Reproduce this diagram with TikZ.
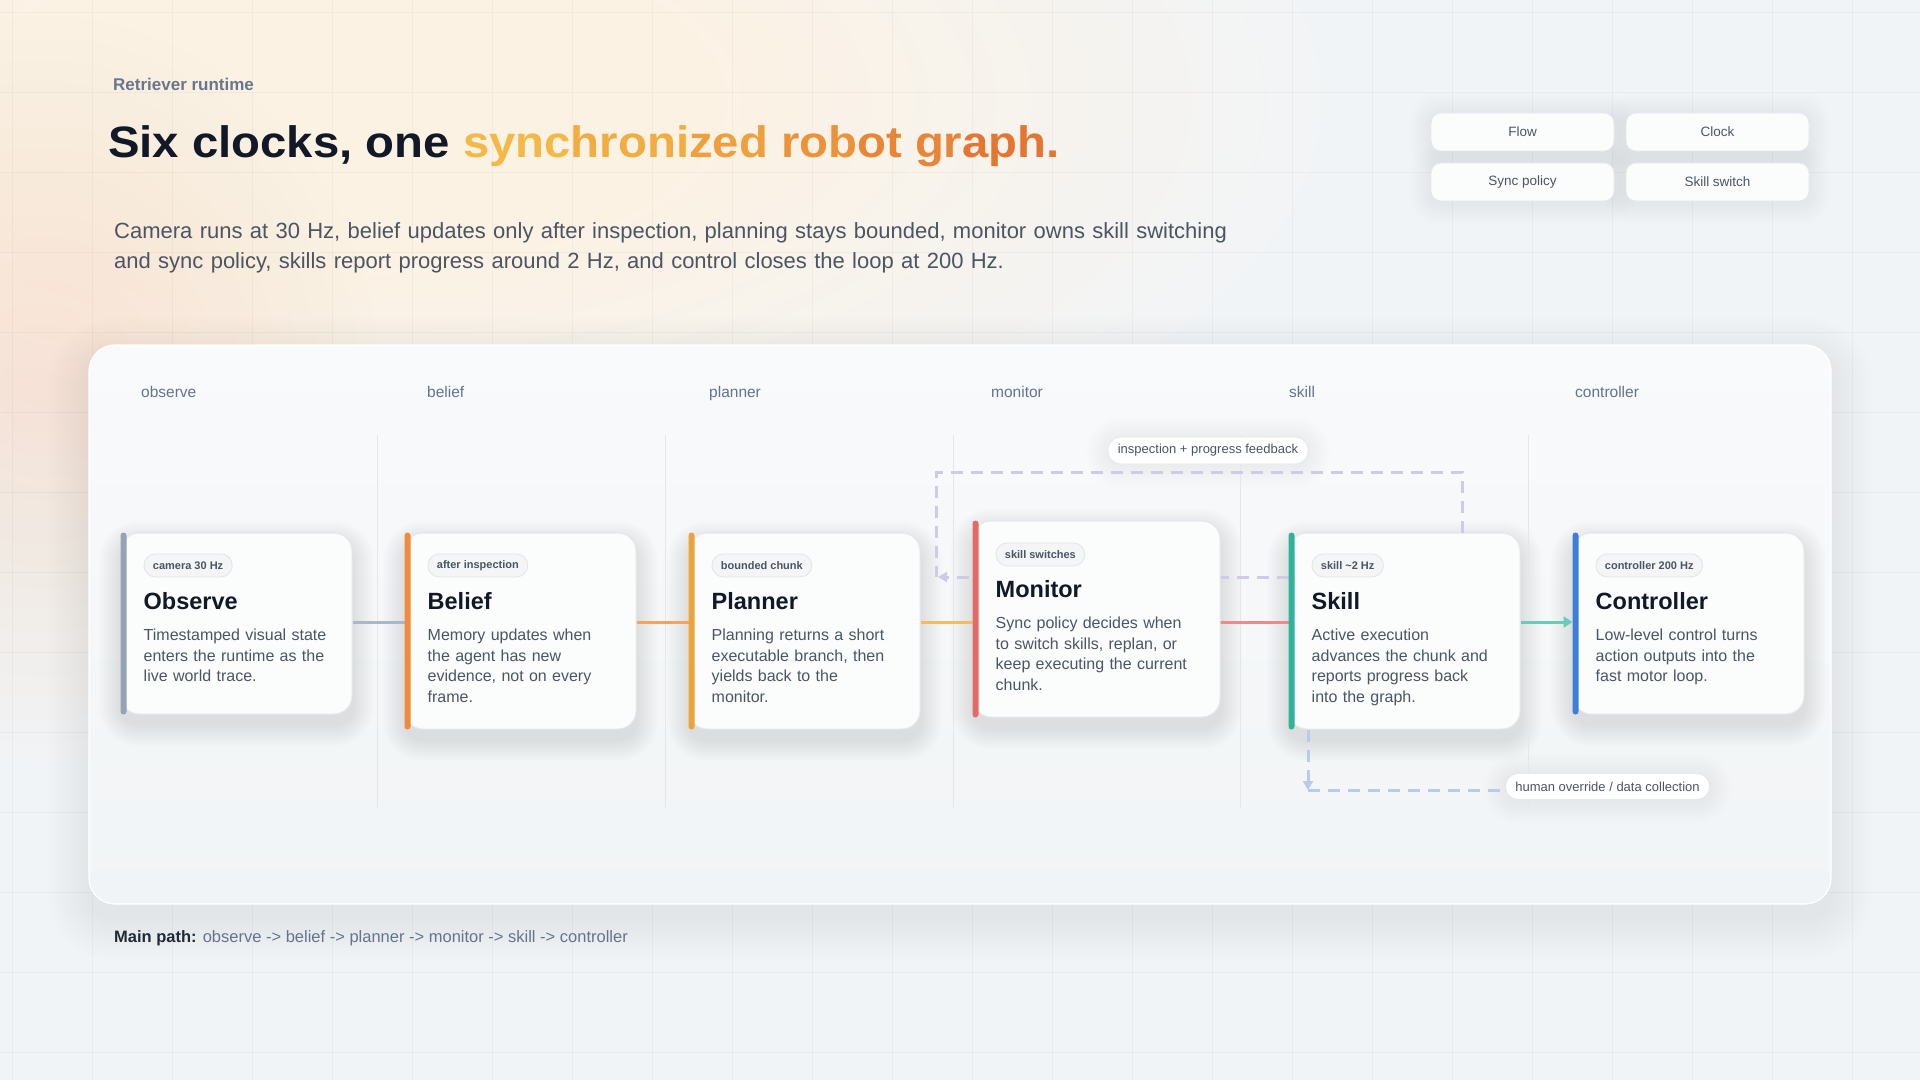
\documentclass[tikz,border=0pt]{standalone}
\usepackage{fontspec}
\setmainfont{Liberation Sans}
\usepackage{graphicx}
\usetikzlibrary{arrows.meta,calc}
\definecolor{bg}{HTML}{F1F4F7}
\definecolor{glowc}{HTML}{FCF2E4}
\definecolor{peach}{HTML}{F8DFC6}
\definecolor{ink}{HTML}{111827}
\definecolor{ink2}{HTML}{1F2937}
\definecolor{slate}{HTML}{4B5563}
\definecolor{muted}{HTML}{64748B}
\definecolor{eyebrow}{HTML}{68778D}
\definecolor{cardfill}{HTML}{FBFCFC}
\definecolor{cardline}{HTML}{E5E8EC}
\definecolor{pillfill}{HTML}{F3F5F7}
\definecolor{pillline}{HTML}{E1E4E8}
\definecolor{divc}{HTML}{E3E7EC}
\definecolor{panelT}{HTML}{F9FAFB}
\definecolor{panelB}{HTML}{F1F4F6}
\definecolor{obsC}{HTML}{94A3B8}
\definecolor{belC}{HTML}{F08A3C}
\definecolor{plaC}{HTML}{EBA43A}
\definecolor{monC}{HTML}{E46A6A}
\definecolor{skiC}{HTML}{2FB39B}
\definecolor{conC}{HTML}{3B7FD9}
\definecolor{lnA}{HTML}{AAB7C6}
\definecolor{lnB}{HTML}{F2A462}
\definecolor{lnC}{HTML}{F1BC62}
\definecolor{lnD}{HTML}{E88C8C}
\definecolor{lnE}{HTML}{6CCAB6}
\definecolor{fbC}{HTML}{D1C9E9}
\definecolor{hoC}{HTML}{B8CBEA}
\definecolor{tA}{HTML}{F4B847}
\definecolor{tB}{HTML}{F1AC42}
\definecolor{tC}{HTML}{EEA03E}
\definecolor{tD}{HTML}{EC933A}
\definecolor{tE}{HTML}{E98536}
\definecolor{tF}{HTML}{E57632}
\pgfdeclareradialshading{warmglow}{\pgfpoint{0bp}{0bp}}{color(0bp)=(glowc); color(9bp)=(glowc); color(25bp)=(bg); color(50bp)=(bg)}
\pgfdeclarelayer{back}
\pgfdeclarelayer{shadowlayer}
\pgfsetlayers{back,shadowlayer,main}
\newcommand\fsz[2]{\fontsize{#1}{#2}\selectfont}
\newcommand\softshadow[4]{% node, radius, y offset, opacity
  \begin{pgfonlayer}{shadowlayer}
  \foreach \k in {1,...,12} {%
    \pgfmathsetmacro\ssd{1.8*\k}%
    \pgfmathsetmacro\ssr{#2+1.8*\k}%
    \fill[black, opacity=#4, rounded corners=\ssr pt]
      ([xshift=-\ssd pt, yshift=\ssd pt-#3pt]#1.north west) rectangle ([xshift=\ssd pt, yshift=-\ssd pt-#3pt]#1.south east);}
  \end{pgfonlayer}}
\newcommand\mkcardtext[5]{%
  \node[tagpill, anchor=north west] (#1tag) at ([xshift=23pt,yshift=-#5pt]#1.north west) {#2};
  \node[cardtitle, anchor=base west] (#1title) at ([xshift=23pt,yshift=-77pt]#1.north west) {#3};
  \node[cardbody, anchor=base west] (#1body) at ([xshift=23pt,yshift=-108pt]#1.north west) {#4};
}
\begin{document}
\begin{tikzpicture}[x=1pt,y=-1pt,
  card/.style={draw=cardline, line width=1pt, fill=cardfill, rounded corners=18pt,
    minimum width=231pt, inner sep=0pt},
  tagpill/.style={draw=pillline, line width=0.8pt, fill=pillfill, rounded corners=11.5pt,
    minimum height=23pt, inner xsep=9pt, inner ysep=0pt, text=slate, font=\fsz{11}{13}\bfseries},
  cardtitle/.style={inner sep=0pt, text=ink, font=\fsz{23.5}{28}\bfseries},
  cardbody/.style={inner sep=0pt, text=slate, text width=210pt, align=left, font=\fsz{16}{20.5}\selectfont},
  collabel/.style={inner sep=0pt, text=muted, font=\fsz{15.5}{18}\selectfont},
  divider/.style={draw=divc, line width=1pt},
  link/.style={draw=#1, line width=3pt},
  fb/.style={draw=fbC, line width=3pt, dash pattern=on 12pt off 8pt},
  ho/.style={draw=hoC, line width=3pt, dash pattern=on 12pt off 8pt},
  btn/.style={draw=cardline, line width=0.8pt, fill=cardfill, rounded corners=10pt,
    minimum width=183pt, minimum height=38pt, text=slate, font=\fsz{13.5}{16}\selectfont},
  notepill/.style={draw=cardline, line width=0.8pt, fill=white, rounded corners=13pt,
    inner xsep=10pt, inner ysep=0pt, text=slate, font=\fsz{13}{15}\selectfont},
]
\useasboundingbox (0,0) rectangle (1920,1080);
\begin{pgfonlayer}{back}
% background
\fill[bg] (0,0) rectangle (1920,1080);
\shade[shading=warmglow] (-650,-350) rectangle (1350,550);
\foreach \r in {20,40,...,340} \fill[peach, opacity=0.035] (40,390) ellipse [x radius=\r, y radius=1.1*\r];
\foreach \gx in {12,92,...,1920} \draw[black, opacity=0.03, line width=1pt] (\gx,0) -- (\gx,1080);
\foreach \gy in {12,92,...,1080} \draw[black, opacity=0.03, line width=1pt] (0,\gy) -- (1920,\gy);
% panel shadow + panel
\foreach \k in {1,...,14} {%
  \pgfmathsetmacro\pd{3*\k}\pgfmathsetmacro\pr{26+3*\k}%
  \fill[black, opacity=0.0045, rounded corners=\pr pt] (89-\pd,345-\pd+14) rectangle (1831+\pd,904+\pd+14);}
\shade[top color=panelT, bottom color=panelB, rounded corners=26pt] (89,345) rectangle (1831,904);
\draw[white, line width=1.2pt, rounded corners=26pt] (89,345) rectangle (1831,904);
\end{pgfonlayer}

% header
\node[anchor=base west, inner sep=0pt, text=eyebrow, font=\fsz{17}{20}\bfseries] (eyebrow) at (113,90) {Retriever runtime};
\node[anchor=base west, inner sep=0pt, font=\fsz{44}{50}\bfseries] (title) at (108,157)
  {\scalebox{1.075}[1]{\textcolor{ink}{Six clocks, one }\textcolor{tA}{sync}\textcolor{tB}{hroni}\textcolor{tC}{zed }\textcolor{tD}{rob}\textcolor{tE}{ot gr}\textcolor{tF}{aph.}}};
\node[anchor=base west, inner sep=0pt, text=slate, text width=1400pt, align=left, font=\fsz{22}{30}\selectfont] (lede) at (114,238)
  {Camera runs at 30 Hz, belief updates only after inspection, planning stays bounded, monitor owns skill switching\\and sync policy, skills report progress around 2 Hz, and control closes the loop at 200 Hz.};

% legend buttons
\node[btn] (bFlow) at (1522.5,132) {Flow};
\node[btn] (bClock) at (1717.5,132) {Clock};
\node[btn] (bSync) at (1522.5,182) {Sync policy};
\node[btn] (bSkill) at (1717.5,182) {Skill switch};
\foreach \b in {bFlow,bClock,bSync,bSkill} {\softshadow{\b}{10}{2}{0.005}}

% column labels
\node[collabel, anchor=base west] (lObs) at (141,397) {observe};
\node[collabel, anchor=base west] (lBel) at (427,397) {belief};
\node[collabel, anchor=base west] (lPla) at (709,397) {planner};
\node[collabel, anchor=base west] (lMon) at (991,397) {monitor};
\node[collabel, anchor=base west] (lSki) at (1289,397) {skill};
\node[collabel, anchor=base west] (lCon) at (1575,397) {controller};

% dividers
\foreach \dx in {377,665,953,1240,1528} \draw[divider] (\dx,435) -- (\dx,808);

\coordinate (flow) at (0,622);
\coordinate (fbTR) at (1462,472);
\coordinate (fbTL) at (936,472);
\coordinate (fbIn) at (938,577);
\coordinate (hoCorner) at (1308,790);

% cards
\node[card, minimum height=181pt] (obs) at (236.5,623.5) {};
\node[card, minimum height=196pt] (bel) at (520.5,631) {};
\node[card, minimum height=196pt] (pla) at (804.5,631) {};
\node[card, minimum height=196pt] (ski) at (1404.5,631) {};

% feedback paths (behind monitor)
\draw[fb] (ski.north -| fbTR) -- (fbTR) -- (fbTL) -- (fbTL |- fbIn);
\draw[fb, -{Triangle[length=9pt,width=10pt]}] (ski.west |- fbIn) -- (fbIn);
\draw[ho, -{Triangle[length=9pt,width=10pt]}] (ski.south -| hoCorner) -- (hoCorner);

% connectors
\draw[link=lnA] (obs.east |- flow) -- (bel.west |- flow);
\draw[link=lnB] (bel.east |- flow) -- (pla.west |- flow);
\draw[link=lnC] (pla.east |- flow) -- (973,622);
\draw[link=lnD] (1220,622) -- (ski.west |- flow);

\node[card, minimum width=247pt, minimum height=196pt] (mon) at (1096.5,619) {};
\node[card, minimum height=181pt] (con) at (1688.5,623.5) {};
\draw[link=lnE, -{Triangle[length=9pt,width=11pt]}] (ski.east |- flow) -- (con.west |- flow);

\foreach \c in {obs,bel,pla,mon,ski,con} {\softshadow{\c}{18}{10}{0.008}}

% accents
\foreach \c/\col in {obs/obsC, bel/belC, pla/plaC, mon/monC, ski/skiC, con/conC}
  \fill[\col, rounded corners=3pt] (\c.north west) rectangle ([xshift=6pt]\c.south west);

% card texts
\mkcardtext{obs}{camera 30 Hz}{Observe}{Timestamped visual state\\enters the runtime as the\\live world trace.}{21}
\mkcardtext{bel}{after inspection}{Belief}{Memory updates when\\the agent has new\\evidence, not on every\\frame.}{21}
\mkcardtext{pla}{bounded chunk}{Planner}{Planning returns a short\\executable branch, then\\yields back to the\\monitor.}{21}
\mkcardtext{mon}{skill switches}{Monitor}{Sync policy decides when\\to switch skills, replan, or\\keep executing the current\\chunk.}{22}
\mkcardtext{ski}{skill {\textasciitilde}2 Hz}{Skill}{Active execution\\advances the chunk and\\reports progress back\\into the graph.}{21}
\mkcardtext{con}{controller 200 Hz}{Controller}{Low-level control turns\\action outputs into the\\fast motor loop.}{21}

% note pills
\node[notepill, minimum height=27pt] (fbNote) at (1208,450.5) {inspection + progress feedback};
\draw[ho] (1520,790) -- (hoCorner);
\node[notepill, minimum height=26pt] (hoNote) at (1607.5,786.5) {human override / data collection};
\softshadow{fbNote}{13}{2}{0.005}
\softshadow{hoNote}{13}{2}{0.005}

% footer
\node[anchor=base west, inner sep=0pt, font=\fsz{16.5}{19}\selectfont] (footer) at (114,942)
  {\textcolor{ink2}{\bfseries Main path:} \textcolor{muted}{observe -> belief -> planner -> monitor -> skill -> controller}};
\end{tikzpicture}
\end{document}
